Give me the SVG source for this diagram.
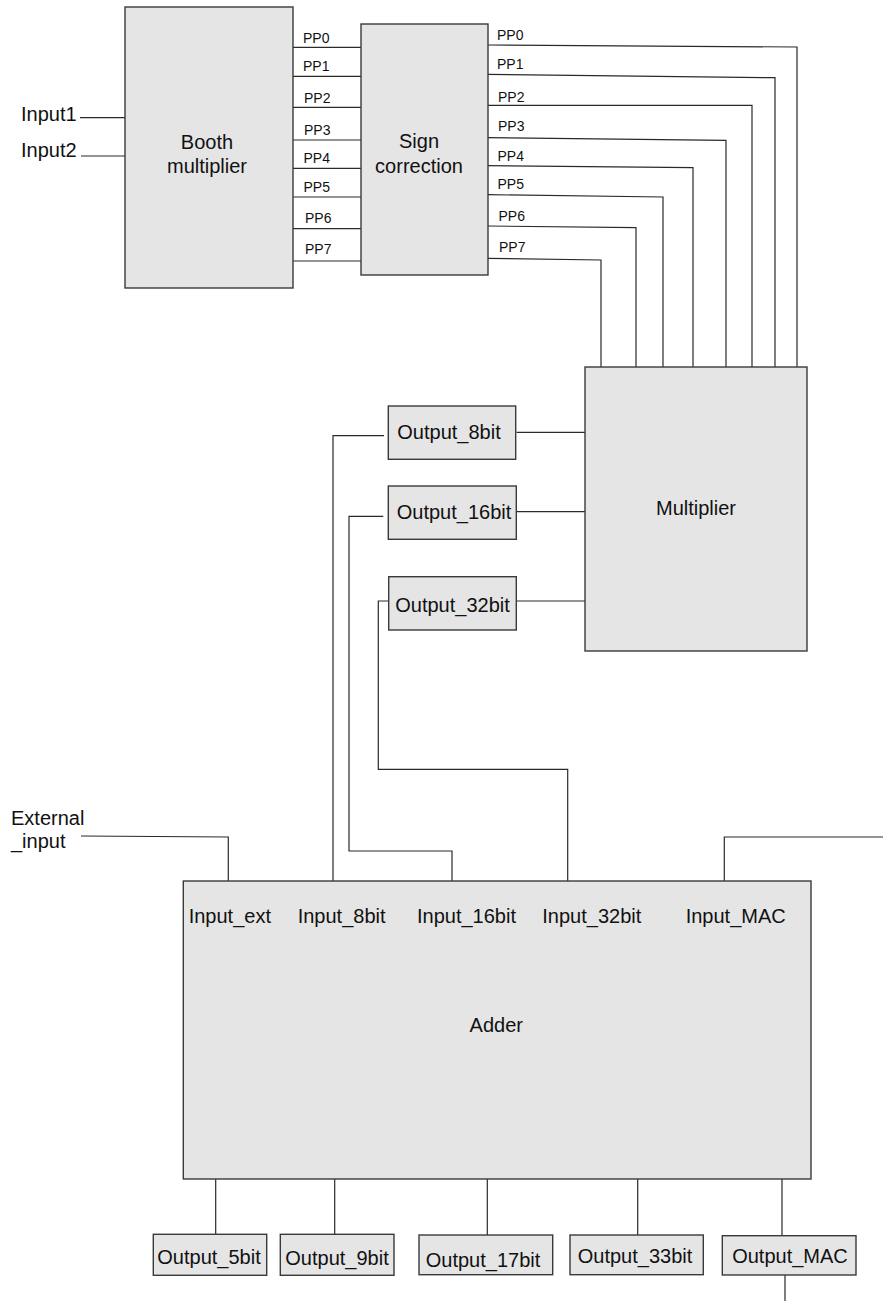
<svg xmlns="http://www.w3.org/2000/svg" width="883" height="1301" viewBox="0 0 883 1301">
<style>
.box{fill:#e5e5e5;stroke:#3a3a3a;stroke-width:1.4}
.w{fill:none;stroke:#2a2a2a;stroke-width:1.2}
text{font-family:"Liberation Sans",Arial,Helvetica,sans-serif;fill:#111;font-size:20px}
.pp{font-size:14px}
.c{text-anchor:middle}
</style>
<rect width="883" height="1301" fill="#ffffff"/>
<g id="connectors">
<path class="w" d="M80 117.7H125M81 156H125"/>
<path class="w" d="M293 47.3H361M293 76.3H361M293 107.3H361M293 140H361M293 168.3H361M293 197H361M293 228.7H361M293 261H361"/>
<path class="w" d="M488 45L797 47V367"/>
<path class="w" d="M488 74.3L775 77.7V367"/>
<path class="w" d="M488 105.3H752V367"/>
<path class="w" d="M488 137.7L726 140.3V367"/>
<path class="w" d="M488 165.7L693 167.7V367"/>
<path class="w" d="M488 194.7L663 197V367"/>
<path class="w" d="M488 226L636 227.7V367"/>
<path class="w" d="M488 258.3L601 260V367"/>
<path class="w" d="M516.5 432.3H585"/>
<path class="w" d="M516.5 511.7H585"/>
<path class="w" d="M516.5 601H585"/>
<path class="w" d="M384 435.7H333V881"/>
<path class="w" d="M383.3 516.3H349V851H452V881"/>
<path class="w" d="M388.5 601H378.3V769.3H567.7V881"/>
<path class="w" d="M81 836L228.3 837V881"/>
<path class="w" d="M883 837H724.3V881"/>
<path class="w" d="M215.7 1179V1234.3M334.7 1179V1234.3M487.3 1179V1235M637.7 1179V1235M782 1179V1235.7M785 1275V1301"/>
</g>
<g id="booth"><rect class="box" x="125" y="7" width="168" height="281"/><text class="c" x="207" y="149">Booth</text><text class="c" x="207" y="173">multiplier</text></g>
<g id="sign"><rect class="box" x="361" y="24" width="127" height="251"/><text class="c" x="419" y="148">Sign</text><text class="c" x="419" y="173">correction</text></g>
<g id="labels">
<text x="21" y="121">Input1</text><text x="21" y="157">Input2</text>
<text class="pp" x="303" y="42.7">PP0</text><text class="pp" x="303" y="71">PP1</text><text class="pp" x="304" y="102.7">PP2</text><text class="pp" x="304" y="134.7">PP3</text><text class="pp" x="303.5" y="163.3">PP4</text><text class="pp" x="303.5" y="192">PP5</text><text class="pp" x="305" y="223.3">PP6</text><text class="pp" x="305" y="254.3">PP7</text>
<text class="pp" x="497" y="40">PP0</text><text class="pp" x="497" y="69.3">PP1</text><text class="pp" x="498" y="101.7">PP2</text><text class="pp" x="498" y="131">PP3</text><text class="pp" x="497.5" y="160.7">PP4</text><text class="pp" x="497.5" y="189.3">PP5</text><text class="pp" x="498.5" y="221">PP6</text><text class="pp" x="499" y="252">PP7</text>
<text x="11" y="825">External</text><text x="11" y="848">_input</text>
</g>
<g id="multiplier"><rect class="box" x="585" y="367" width="222" height="284"/><text class="c" x="696" y="515">Multiplier</text></g>
<g id="out8"><rect class="box" x="388.3" y="406" width="127.4" height="53.3"/><text class="c" x="449" y="439.3">Output_8bit</text></g>
<g id="out16"><rect class="box" x="388.3" y="486" width="128" height="53.3"/><text class="c" x="454" y="519">Output_16bit</text></g>
<g id="out32"><rect class="box" x="388.7" y="576.7" width="127.6" height="53.3"/><text class="c" x="452.5" y="611.7">Output_32bit</text></g>
<g id="adder"><rect class="box" x="183.3" y="881" width="627.7" height="298"/>
<text x="188.7" y="922.7">Input_ext</text><text x="297.7" y="922.7">Input_8bit</text><text x="417" y="922.7">Input_16bit</text><text x="542.3" y="922.7">Input_32bit</text><text x="685.7" y="922.7">Input_MAC</text>
<text class="c" x="496.3" y="1031.7">Adder</text></g>
<g id="out5"><rect class="box" x="153.3" y="1234.3" width="113.4" height="41"/><text class="c" x="209" y="1264.3">Output_5bit</text></g>
<g id="out9"><rect class="box" x="280.3" y="1234.3" width="113.7" height="41"/><text class="c" x="337" y="1265">Output_9bit</text></g>
<g id="out17"><rect class="box" x="419" y="1235" width="133.7" height="39.7"/><text class="c" x="483" y="1266.7">Output_17bit</text></g>
<g id="out33"><rect class="box" x="570" y="1235" width="133.3" height="39.7"/><text class="c" x="635" y="1263.3">Output_33bit</text></g>
<g id="outmac"><rect class="box" x="722.3" y="1235.7" width="133.7" height="39.3"/><text class="c" x="790" y="1263.3">Output_MAC</text></g>
</svg>
